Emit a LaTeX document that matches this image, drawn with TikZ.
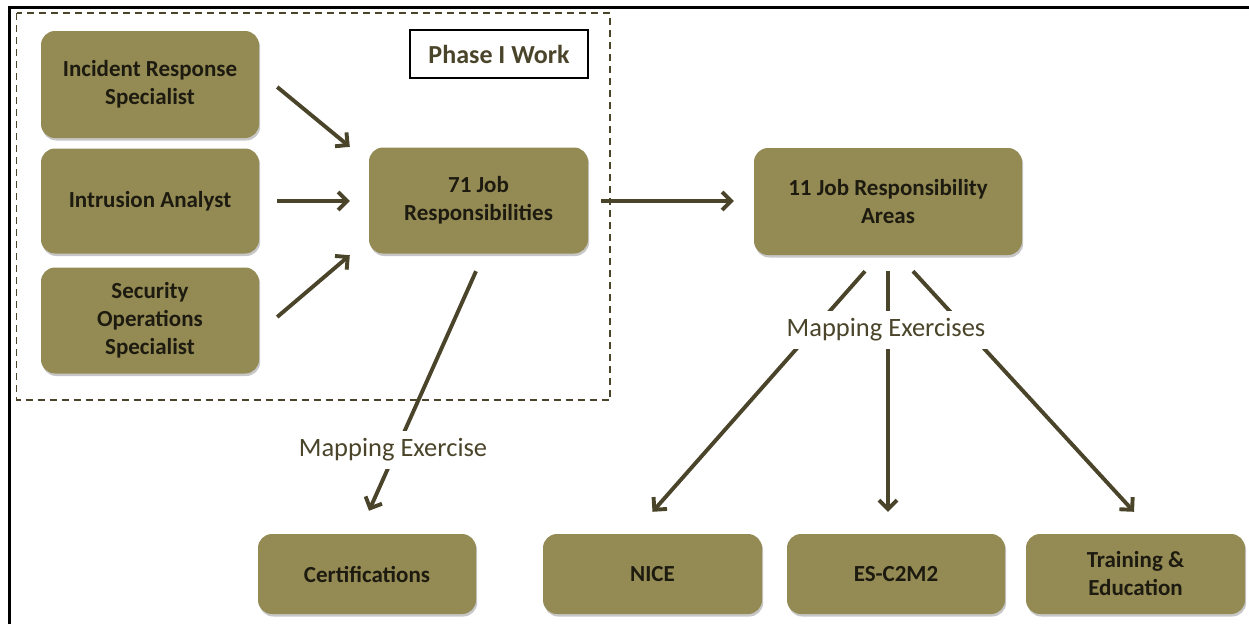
\documentclass[tikz,border=0pt]{standalone}
\usepackage{fontspec}
\setmainfont{Carlito}
\usetikzlibrary{arrows.meta,calc,shadows}
\definecolor{olivebox}{HTML}{948A54}
\definecolor{olivedark}{HTML}{4A452A}
\definecolor{boxtext}{HTML}{1D1B10}
\begin{document}
\begin{tikzpicture}[x=1pt,y=-1pt,
  jobbox/.style={rounded corners=14pt, fill=olivebox, text=boxtext,
    font=\bfseries\fontsize{23}{28}\selectfont, align=center, inner sep=0pt,
    drop shadow={shadow xshift=1.2pt, shadow yshift=-2.5pt, fill=black, opacity=0.22}},
  flow/.style={draw=olivedark, line width=3.9pt, -{Straight Barb[length=9pt,width=18pt]}},
  maplabel/.style={fill=white, text=olivedark, font=\fontsize{26.5}{30}\selectfont,
    inner xsep=4pt, inner ysep=8pt}
]
\useasboundingbox (0,0) rectangle (1249,624);

% page frame (top and left edges)
\draw[line width=3pt] (9,624) -- (9,7.5) -- (1249,7.5);

% Phase I boundary
\draw[olivedark, line width=1.6pt, dash pattern=on 7pt off 5pt] (16.5,13) rectangle (610,400);
\node[draw=black, line width=1.5pt, fill=white, minimum width=178pt, minimum height=48pt,
  inner sep=0pt, text=olivedark, font=\bfseries\fontsize{26}{30}\selectfont] (phase) at (499,54) {Phase I Work};

% roles
\node[jobbox, minimum width=218pt, minimum height=107pt] (irs) at (150,84.5) {Incident Response\\Specialist};
\node[jobbox, minimum width=218pt, minimum height=105pt] (ia)  at (150,201) {Intrusion Analyst};
\node[jobbox, minimum width=218pt, minimum height=106pt] (sos) at (150,320.5) {Security\\Operations\\Specialist};

% responsibilities
\node[jobbox, minimum width=219pt, minimum height=106pt] (jr) at (478.5,200.5) {71 Job\\Responsibilities};
\node[jobbox, minimum width=268pt, minimum height=107pt] (jra) at (888,201.5) {11 Job Responsibility\\Areas};

% mapping targets
\node[jobbox, minimum width=218pt, minimum height=80pt] (cert) at (367,574) {Certifications};
\node[jobbox, minimum width=219pt, minimum height=80pt] (nice) at (652.5,574) {NICE};
\node[jobbox, minimum width=218pt, minimum height=80pt] (es)   at (896,574) {ES-C2M2};
\node[jobbox, minimum width=219pt, minimum height=80pt] (te)   at (1135.5,574) {Training \&\\Education};

% role -> responsibilities
\draw[flow] ($(irs.east)+(18,2.5)$) -- ($(jr.north west)+(-19,-0.5)$);
\draw[flow] ($(ia.east)+(18,0)$) -- ($(jr.west)+(-19,0.5)$);
\draw[flow] ($(sos.east)+(18,-3.5)$) -- ($(jr.south west)+(-19,1.5)$);
\draw[flow] ($(jr.east)+(13,0.5)$) -- ($(jra.west)+(-20,-0.5)$);

% mapping exercises
\draw[flow] ($(jr.south)+(-2.5,17.5)$) -- ($(cert.north)+(2,-23)$);
\draw[flow] ($(jra.south)+(-23,16)$) -- ($(nice.north)+(0,-22)$);
\draw[flow] ($(jra.south)+(0,16)$) -- ($(es.north)+(-8,-22)$);
\draw[flow] ($(jra.south)+(25,16)$) -- ($(te.north)+(-1.5,-22)$);

\node[maplabel] (map1) at (393,450) {Mapping Exercise};
\node[maplabel] (map2) at (886,330) {Mapping Exercises};
\end{tikzpicture}
\end{document}
